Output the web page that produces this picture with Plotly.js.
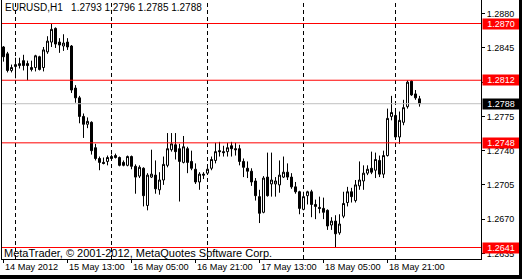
<!DOCTYPE html>
<html>
<head>
<meta charset="utf-8">
<script src="https://cdn.plot.ly/plotly-3.0.1.min.js"></script>
<style>
  html, body { margin: 0; padding: 0; background: #000; }
  #chart { width: 519px; height: 275px; background: #fff; }
</style>
</head>
<body>
<div id="chart"></div>
<script>
// EURUSD H1 bars (bar index 0 = first visible bar)
const openP = [1.2846,1.2839,1.2822,1.2826,1.2827,1.2832,1.2829,1.2825,1.2825,1.2836,
  1.2825,1.2841,1.2851,1.2865,1.2851,1.2847,1.2851,1.2847,1.2804,1.2794,
  1.2775,1.2767,1.2769,1.2743,1.2732,1.2728,1.2729,1.2734,1.2735,1.2733,
  1.2728,1.2725,1.2734,1.2724,1.2714,1.2722,1.2684,1.2713,1.2715,1.2700,
  1.2710,1.2725,1.2741,1.2746,1.2742,1.2728,1.2742,1.2729,1.2721,1.2708,
  1.2716,1.2717,1.2722,1.2730,1.2740,1.2739,1.2739,1.2745,1.2742,1.2742,
  1.2729,1.2722,1.2719,1.2709,1.2693,1.2677,1.2713,1.2706,1.2706,1.2705,
  1.2713,1.2718,1.2713,1.2703,1.2698,1.2680,1.2694,1.2698,1.2685,1.2682,
  1.2681,1.2679,1.2664,1.2668,1.2656,1.2673,1.2687,1.2698,1.2689,1.2704,
  1.2709,1.2717,1.2722,1.2720,1.2730,1.2716,1.2735,1.2775,1.2776,1.2754,
  1.2769,1.2785,1.2811,1.2798,1.2793];
const highP = [1.2847,1.2841,1.2828,1.2835,1.2835,1.2838,1.2832,1.2832,1.2838,1.2837,
  1.2846,1.2857,1.2870,1.2866,1.2855,1.2859,1.2855,1.2848,1.2807,1.2796,
  1.2778,1.2774,1.2770,1.2747,1.2734,1.2733,1.2735,1.2736,1.2737,1.2734,
  1.2730,1.2735,1.2735,1.2726,1.2725,1.2723,1.2717,1.2741,1.2730,1.2718,
  1.2734,1.2758,1.2758,1.2758,1.2747,1.2755,1.2744,1.2740,1.2727,1.2718,
  1.2718,1.2723,1.2734,1.2748,1.2749,1.2745,1.2748,1.2749,1.2748,1.2746,
  1.2732,1.2729,1.2722,1.2712,1.2700,1.2714,1.2738,1.2738,1.2713,1.2730,
  1.2734,1.2727,1.2717,1.2708,1.2699,1.2698,1.2699,1.2700,1.2690,1.2693,
  1.2692,1.2680,1.2672,1.2674,1.2675,1.2698,1.2703,1.2702,1.2710,1.2729,
  1.2725,1.2725,1.2739,1.2738,1.2735,1.2740,1.2783,1.2796,1.2780,1.2780,
  1.2792,1.2812,1.2812,1.2802,1.2796];
const lowP = [1.2831,1.2820,1.2820,1.2814,1.2824,1.2822,1.2812,1.2821,1.2821,1.2822,
  1.2821,1.2839,1.2846,1.2845,1.2840,1.2842,1.2843,1.2799,1.2789,1.2768,
  1.2753,1.2763,1.2736,1.2730,1.2720,1.2726,1.2725,1.2730,1.2732,1.2724,
  1.2724,1.2724,1.2721,1.2696,1.2712,1.2683,1.2679,1.2712,1.2696,1.2695,
  1.2705,1.2723,1.2739,1.2731,1.2688,1.2727,1.2717,1.2720,1.2706,1.2700,
  1.2711,1.2716,1.2720,1.2727,1.2734,1.2734,1.2734,1.2734,1.2735,1.2725,
  1.2713,1.2712,1.2704,1.2689,1.2666,1.2676,1.2693,1.2693,1.2693,1.2697,
  1.2712,1.2710,1.2701,1.2696,1.2675,1.2679,1.2685,1.2672,1.2670,1.2676,
  1.2670,1.2659,1.2659,1.2641,1.2654,1.2671,1.2683,1.2687,1.2687,1.2700,
  1.2700,1.2715,1.2716,1.2712,1.2713,1.2712,1.2734,1.2771,1.2752,1.2747,
  1.2766,1.2783,1.2796,1.2792,1.2785];
const closeP = [1.2836,1.2822,1.2825,1.2828,1.2829,1.2827,1.2827,1.2823,1.2837,1.2823,
  1.2843,1.2852,1.2864,1.2849,1.2848,1.2850,1.2846,1.2802,1.2794,1.2775,
  1.2767,1.2770,1.2740,1.2732,1.2728,1.2727,1.2733,1.2732,1.2733,1.2725,
  1.2725,1.2734,1.2724,1.2713,1.2723,1.2694,1.2715,1.2716,1.2701,1.2710,
  1.2726,1.2742,1.2747,1.2739,1.2729,1.2744,1.2728,1.2722,1.2708,1.2716,
  1.2715,1.2721,1.2731,1.2739,1.2739,1.2738,1.2743,1.2742,1.2741,1.2729,
  1.2723,1.2719,1.2708,1.2694,1.2676,1.2712,1.2694,1.2710,1.2709,1.2715,
  1.2718,1.2713,1.2703,1.2698,1.2681,1.2693,1.2698,1.2685,1.2683,1.2681,
  1.2677,1.2663,1.2668,1.2655,1.2665,1.2686,1.2698,1.2693,1.2705,1.2710,
  1.2717,1.2721,1.2718,1.2731,1.2716,1.2735,1.2773,1.2779,1.2754,1.2771,
  1.2784,1.2810,1.2797,1.2794,1.2788];

const timeTickBars = [0, 16, 32, 48, 64, 80, 96];
const timeTickLabels = ["14 May 2012", "15 May 13:00", "16 May 05:00", "16 May 21:00",
                        "17 May 13:00", "18 May 05:00", "18 May 21:00"];
const daySeparatorBars = [3, 27, 51, 75, 98];
const priceTicks = [1.2880, 1.2845, 1.2810, 1.2775, 1.2740, 1.2705, 1.2670, 1.2635];
// the 1.2810 label sits fully under the 1.2812 level box in the reference
const priceTickLabels = ["1.2880", "1.2845", "", "1.2775", "1.2740", "1.2705", "1.2670", "1.2635"];
const redLevels = [1.2870, 1.2812, 1.2748, 1.2641];
const bidLevel = 1.2788;
const titleText = "EURUSD,H1\u00a0\u00a0 1.2793 1.2796 1.2785 1.2788";
const copyrightText = "MetaTrader, \u00a9 2001-2012, MetaQuotes Software Corp.";

const barIndex = openP.map((_, i) => i);
const FONT = "Liberation Sans, Arial, sans-serif";

const trace = {
  type: "candlestick",
  x: barIndex, open: openP, high: highP, low: lowP, close: closeP,
  increasing: { line: { color: "#000", width: 1 }, fillcolor: "#fff" },
  decreasing: { line: { color: "#000", width: 1 }, fillcolor: "#000" },
  whiskerwidth: 0,
  hoverinfo: "skip",
  showlegend: false
};

const shapes = [];
daySeparatorBars.forEach(b => shapes.push({
  type: "line", xref: "x", yref: "paper", x0: b, x1: b, y0: 0, y1: 1,
  line: { color: "#000", width: 1, dash: "4px,3px" }, layer: "below"
}));
redLevels.forEach(v => shapes.push({
  type: "line", xref: "paper", yref: "y", x0: 0, x1: 1, y0: v, y1: v,
  line: { color: "#ff0000", width: 1 }, layer: "above"
}));
shapes.push({
  type: "line", xref: "paper", yref: "y", x0: 0, x1: 1, y0: bidLevel, y1: bidLevel,
  line: { color: "#c0c0c0", width: 1 }, layer: "above"
});

const annotations = [];
redLevels.forEach(v => annotations.push({
  xref: "paper", yref: "y", x: 1.0031, y: v, xanchor: "left", yanchor: "middle",
  text: v.toFixed(4), showarrow: false, bgcolor: "#ff0000", borderpad: 0,
  width: 36, height: 10, align: "center", valign: "middle",
  font: { family: FONT, size: 9, color: "#fff" }
}));
annotations.push({
  xref: "paper", yref: "y", x: 1.0031, y: bidLevel, xanchor: "left", yanchor: "middle",
  text: bidLevel.toFixed(4), showarrow: false, bgcolor: "#000", borderpad: 0,
  width: 36, height: 10, align: "center", valign: "middle",
  font: { family: FONT, size: 9, color: "#fff" }
});
timeTickBars.forEach((b, k) => annotations.push({
  xref: "x", yref: "paper", x: b, y: 0, xanchor: "left", yanchor: "top", yshift: -2,
  text: timeTickLabels[k], showarrow: false, borderpad: 0,
  font: { family: FONT, size: 9.2, color: "#000" }
}));
annotations.push({
  xref: "paper", yref: "paper", x: 0.004, y: 1, xanchor: "left", yanchor: "top", yshift: -1,
  text: titleText, showarrow: false, borderpad: 0,
  font: { family: FONT, size: 10, color: "#000" }
});
annotations.push({
  xref: "paper", yref: "paper", x: 0.002, y: 0, xanchor: "left", yanchor: "bottom", yshift: -1,
  text: copyrightText, showarrow: false, borderpad: 0,
  font: { family: FONT, size: 11, color: "#000" }
});

const layout = {
  width: 519, height: 275,
  margin: { l: 2, r: 38, t: 0, b: 16, pad: 0 },
  paper_bgcolor: "#fff", plot_bgcolor: "#fff",
  showlegend: false,
  hovermode: false,
  xaxis: {
    type: "linear", range: [-0.375, 119.375], fixedrange: true,
    rangeslider: { visible: false },
    showgrid: false, zeroline: false,
    showline: true, linecolor: "#000", linewidth: 1, mirror: false,
    ticks: "outside", ticklen: 3, tickwidth: 1, tickcolor: "#000",
    tickmode: "array", tickvals: timeTickBars, showticklabels: false
  },
  yaxis: {
    side: "right", range: [1.2629252, 1.2894024], fixedrange: true,
    showgrid: false, zeroline: false,
    showline: true, linecolor: "#000", linewidth: 1, mirror: true,
    ticks: "outside", ticklen: 3, tickwidth: 1, tickcolor: "#000",
    tickmode: "array", tickvals: priceTicks, ticktext: priceTickLabels,
    tickfont: { family: FONT, size: 9, color: "#000" }
  },
  boxgap: 0.5, boxgroupgap: 0,
  shapes: shapes,
  annotations: annotations
};

Plotly.newPlot("chart", [trace], layout, { staticPlot: true, displayModeBar: false });
</script>
</body>
</html>
